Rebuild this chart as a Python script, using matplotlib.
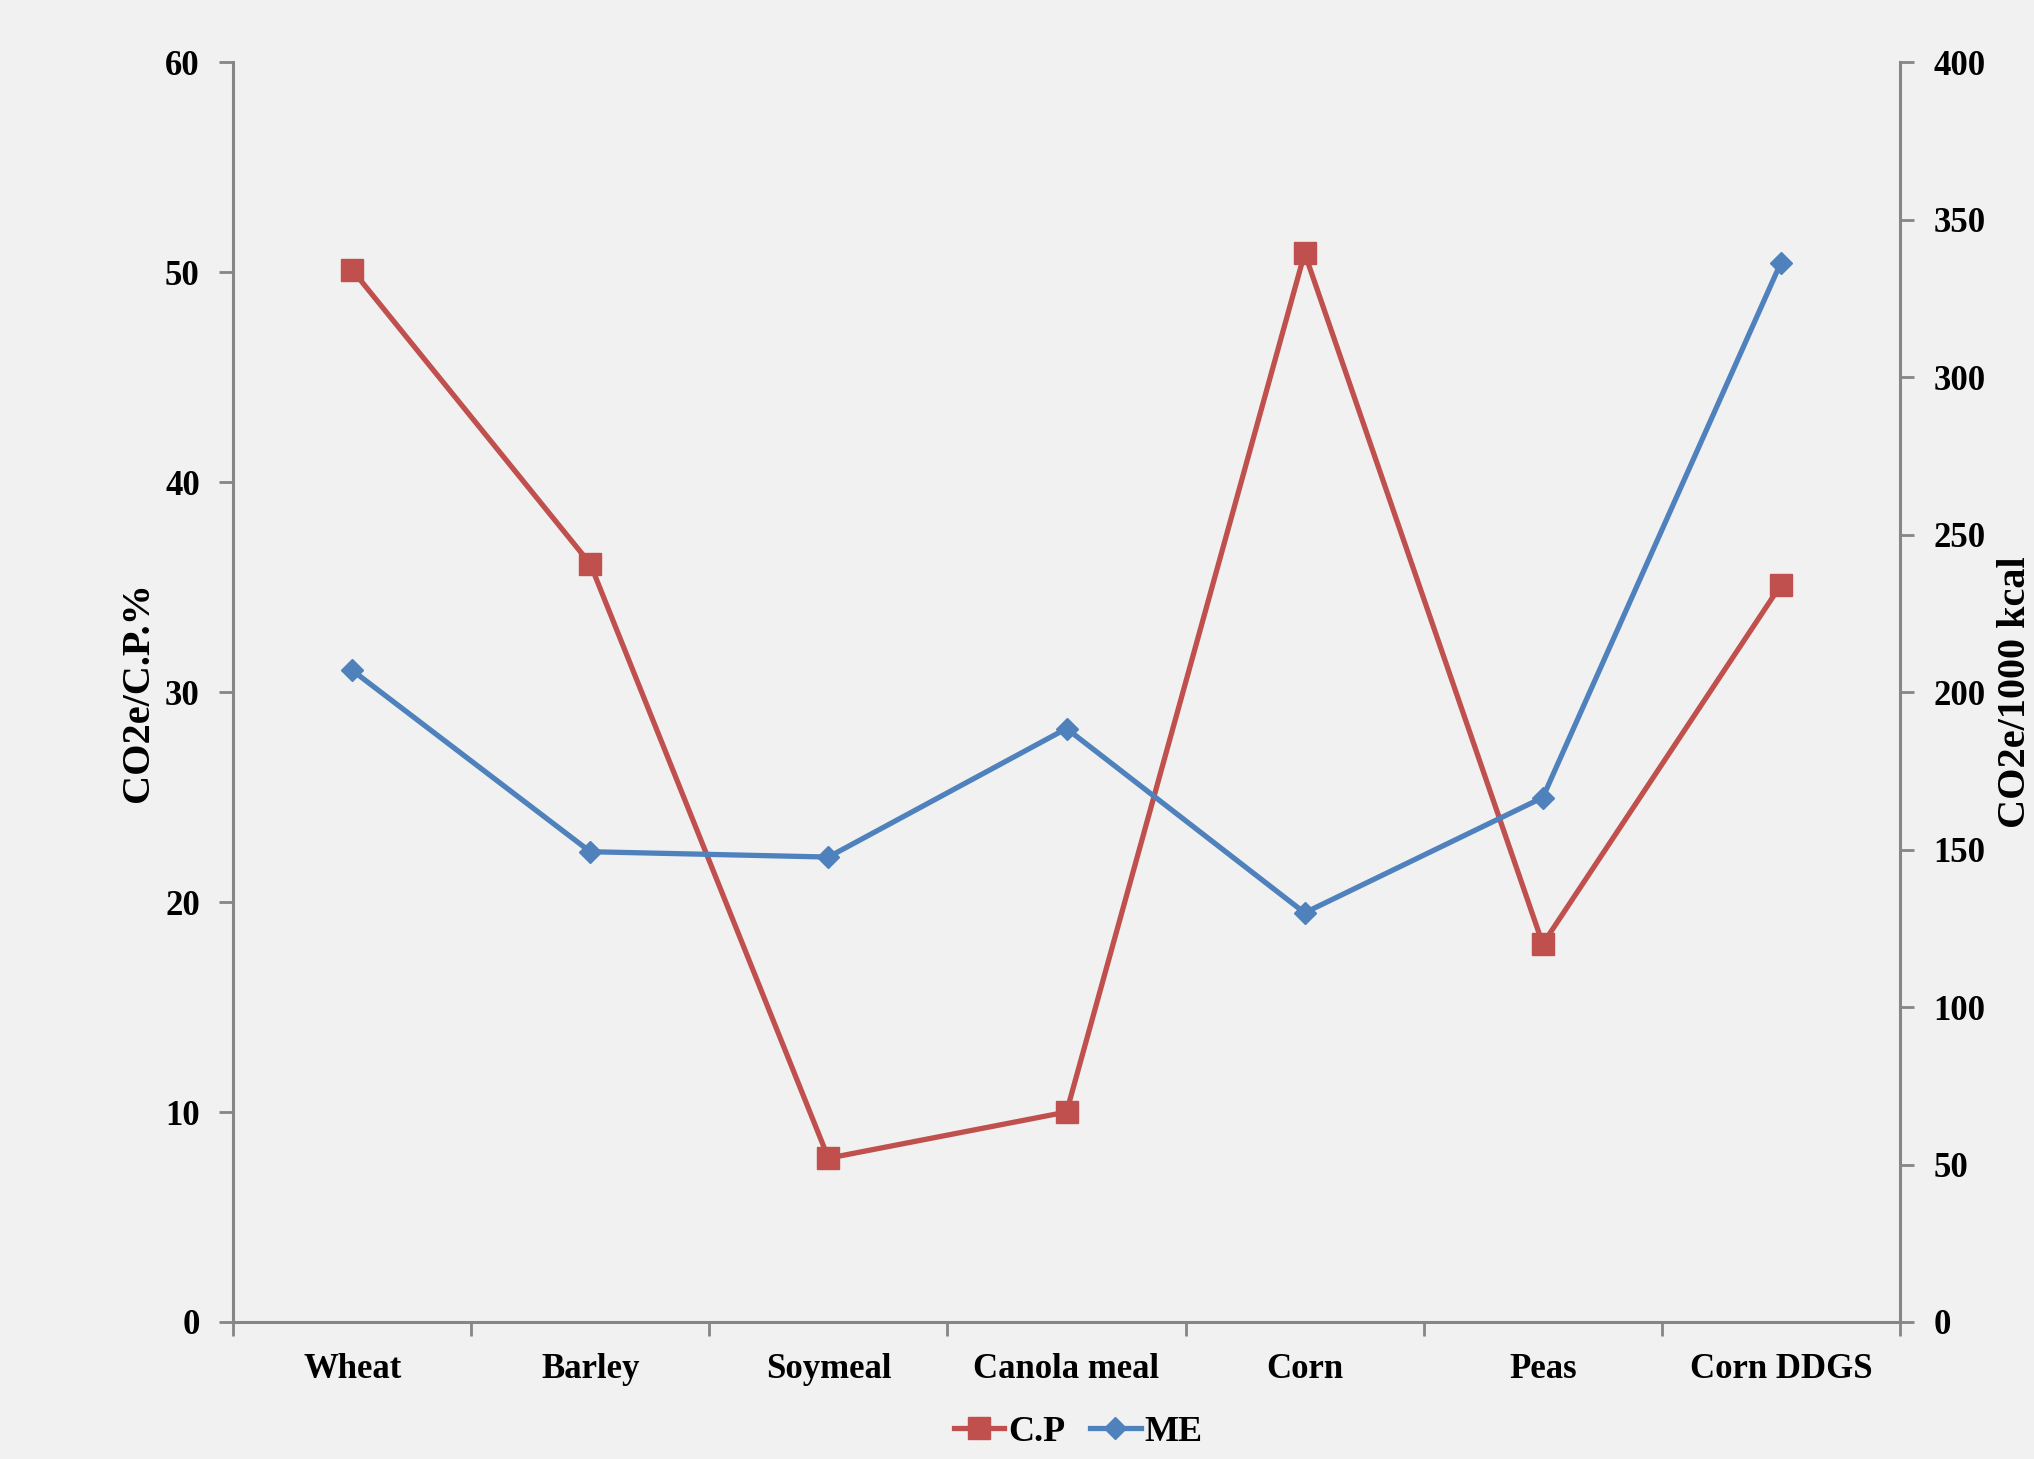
import matplotlib.pyplot as plt
import numpy as np

# -----------------------------
# DATA
# -----------------------------
feeds = ["Wheat", "Barley", "Soymeal", "Canola meal", "Corn", "Peas", "Corn DDGS"]
cp_values = [50.1, 36.1, 7.8, 10.0, 50.9, 18.0, 35.1]        # CO2e / C.P.%
me_values = [206.9, 149.3, 147.6, 188.4, 129.9, 166.5, 336.3]  # CO2e / 1000 kcal

RED = "#C0504D"
BLUE = "#4F81BD"
SPINE = "#868686"
BG = "#F1F1F1"

plt.rcParams["font.family"] = ["Liberation Serif", "DejaVu Serif"]
plt.rcParams["font.weight"] = "bold"

# -----------------------------
# PLOT
# -----------------------------
fig = plt.figure(figsize=(20.34, 14.59), dpi=100, facecolor=BG)
ax = fig.add_axes([0.1146, 0.0939, 0.8195, 0.8636])
ax.set_facecolor(BG)
ax2 = ax.twinx()

x = np.arange(len(feeds))
l1, = ax.plot(x, cp_values, color=RED, lw=3.8, marker="s", ms=16, label="C.P")
l2, = ax2.plot(x, me_values, color=BLUE, lw=3.8, marker="D", ms=11, label="ME")

ax.set_xlim(-0.5, len(feeds) - 0.5)
ax.set_ylim(0, 60)
ax.set_yticks(np.arange(0, 61, 10))
ax2.set_ylim(0, 400)
ax2.set_yticks(np.arange(0, 401, 50))

# category ticks between groups, labels centred on groups
ax.set_xticks(np.arange(-0.5, len(feeds), 1.0))
ax.set_xticklabels([])
ax.set_xticks(x, minor=True)
ax.set_xticklabels(feeds, minor=True)
ax.tick_params(axis="x", which="minor", length=0, pad=22, labelsize=25)
ax.tick_params(axis="x", which="major", length=10, width=2, color=SPINE)

ax.tick_params(axis="y", length=10, width=2, color=SPINE, labelsize=25, pad=14)
ax2.tick_params(axis="y", length=10, width=2, color=SPINE, labelsize=25, pad=14)

for a in (ax, ax2):
    a.spines["top"].set_visible(False)
    for side in ("left", "right", "bottom"):
        a.spines[side].set_color(SPINE)
        a.spines[side].set_linewidth(2.2)
ax.spines["right"].set_visible(False)
ax2.spines["left"].set_visible(False)
ax2.spines["bottom"].set_visible(False)

ax.set_ylabel("CO2e/C.P.%", fontsize=29, fontweight="bold", labelpad=6)
ax2.set_ylabel("CO2e/1000 kcal", fontsize=29, fontweight="bold", labelpad=8)

fig.legend(handles=[l1, l2], loc="center", bbox_to_anchor=(0.53, 0.0185),
           ncol=2, frameon=False, fontsize=26, handlelength=1.4,
           handletextpad=0.1, columnspacing=0.7)

plt.savefig("out.png", dpi=100, facecolor=BG)
plt.close()
